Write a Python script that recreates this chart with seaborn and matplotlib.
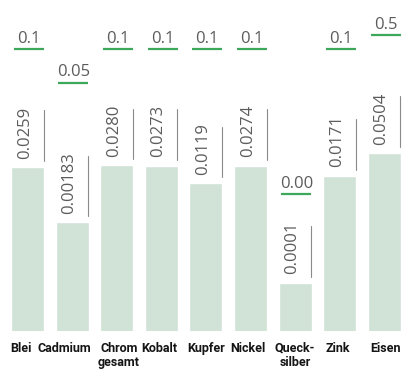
import matplotlib
matplotlib.use("Agg")
import matplotlib.pyplot as plt
import matplotlib.transforms as mtransforms
import seaborn as sns
import pandas as pd

# Metals, measured concentrations and the corresponding limit values (mg/l)
metals = ["Blei", "Cadmium", "Chrom\ngesamt", "Kobalt", "Kupfer",
          "Nickel", "Queck-\nsilber", "Zink", "Eisen"]
measured = ["0.0259", "0.00183", "0.0280", "0.0273", "0.0119",
            "0.0274", "0.0001", "0.0171", "0.0504"]
limits = ["0.1", "0.05", "0.1", "0.1", "0.1", "0.1", "0.00", "0.1", "0.5"]

# vertical placement of each limit marker (fraction of the axes height)
limit_rows = [0.851, 0.750, 0.851, 0.851, 0.851, 0.851, 0.413, 0.851, 0.894]
# horizontal nudge of the category names, in pixels
name_shift = [-7, -8, 2, -2, 0, -3, 0, -2, 1]

df = pd.DataFrame({"metal": metals, "value": [float(s) for s in measured]})

sns.set_theme(style="white")
plt.rcParams["font.family"] = ["Open Sans", "DejaVu Sans"]

W, H, DPI = 403, 369, 100
fig = plt.figure(figsize=(W / DPI, H / DPI), dpi=DPI)
bottom_px = 38.3
ax = fig.add_axes([0, bottom_px / H, 1, (H - bottom_px) / H])
ax.set_yscale("log")

sns.barplot(data=df, x="metal", y="value", color="#d1e2d6", saturation=1,
            width=0.74, errorbar=None, ax=ax)

px_per_decade = 48
ax.set_ylim(1e-5, 10 ** (-5 + (H - bottom_px) / px_per_decade))
step = 44.6
ax.set_xlim(-27.5 / step, (W - 27.5) / step)

for s in ax.spines.values():
    s.set_visible(False)
ax.yaxis.set_visible(False)
ax.set_xlabel("")
ax.tick_params(axis="x", length=0, pad=8.0)
for lbl, dx in zip(ax.get_xticklabels(), name_shift):
    lbl.set_fontfamily(["Roboto", "DejaVu Sans"])
    lbl.set_fontweight("bold")
    lbl.set_fontsize(9.0)
    lbl.set_color("#151515")
    lbl.set_linespacing(1.1)
    lbl.set_transform(lbl.get_transform() +
                      mtransforms.ScaledTranslation(dx / DPI, 0, fig.dpi_scale_trans))

gray = "#5c5c5c"
green = "#3da75a"
blend = mtransforms.blended_transform_factory(ax.transData, ax.transAxes)

# value labels above each bar
texts = []
for i, (lab, v) in enumerate(zip(measured, df["value"])):
    t = ax.annotate(lab, xy=(i, v), xytext=(-2.0, 6.0), textcoords="offset points",
                    rotation=90, ha="center", va="bottom",
                    fontsize=12.0, color=gray)
    texts.append(t)

# limit markers: green rule with the limit value on top
half = 0.335
for i, (lab, row) in enumerate(zip(limits, limit_rows)):
    xc = i + 0.03
    ax.plot([xc - half, xc + half], [row, row], transform=blend,
            color=green, lw=1.6, solid_capstyle="butt")
    ax.annotate(lab, xy=(xc, row), xycoords=blend, xytext=(0, 4.5),
                textcoords="offset points", ha="center", va="baseline",
                fontsize=12.0, color=gray)

# thin rule beside every value label, at the bar's right edge
fig.canvas.draw()
renderer = fig.canvas.get_renderer()
inv = ax.transAxes.inverted()
for i, t in enumerate(texts):
    bb = t.get_window_extent(renderer)
    (_, y0), (_, y1) = inv.transform([(bb.x0, bb.y0 - 2.5), (bb.x1, bb.y1 - 4.0)])
    xr = i + 0.37 - 0.5 / step
    ax.plot([xr, xr], [y0, y1], transform=blend, color="#8a8a8a", lw=0.8)

fig.savefig("out.png", dpi=DPI, facecolor="white")
